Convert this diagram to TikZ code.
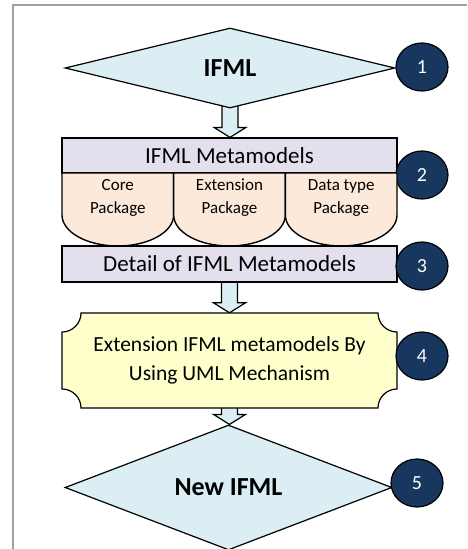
\documentclass[tikz,border=0pt]{standalone}
\usepackage{fontspec}
\setmainfont{Carlito}
\usetikzlibrary{shapes.geometric,backgrounds,calc}

\definecolor{aquafill}{HTML}{DAEEF3}
\definecolor{lavender}{HTML}{E4DFEC}
\definecolor{peach}{HTML}{FDE9D9}
\definecolor{lightyellow}{HTML}{FFFFCC}
\definecolor{navy}{HTML}{17375E}
\definecolor{framegray}{HTML}{A0A0A0}

% block arrow from the bottom of one node to the top of the next
\newcommand\blockarrow[2]{%
  \draw[blockarr] ($(#1.south)+(-8,-4)$) -- ($(#1.south |- #2.north)+(-8,-10)$) -- ++(-8,0)
    -- (#1.south |- #2.north) -- ++(16,-10) -- ++(-8,0) -- ($(#1.south)+(8,-4)$) -- cycle;}

\begin{document}
\begin{tikzpicture}[x=1pt,y=1pt,yscale=-1,
  decision/.style={diamond, draw, line width=1.2pt, fill=aquafill, inner sep=0pt,
    font=\fontsize{26}{30}\selectfont\bfseries},
  stepnum/.style={ellipse, draw=black, line width=1.2pt, fill=navy, text=white,
    minimum width=52pt, minimum height=48pt, inner sep=0pt, font=\fontsize{20}{24}\selectfont},
  bar/.style={rectangle, draw, line width=1.2pt, fill=lavender, minimum width=335pt,
    minimum height=35pt, inner sep=0pt, font=\fontsize{23}{27}\selectfont},
  pkg/.style={draw, line width=1.4pt, fill=peach},
  pkgtext/.style={align=center, inner sep=0pt, font=\fontsize{17}{23}\selectfont},
  plaque/.style={draw, line width=1.2pt, fill=lightyellow},
  blockarr/.style={draw, line width=1.2pt, fill=aquafill, line join=miter}]
\useasboundingbox (0,0) rectangle (467,549);

%Frame
\draw [framegray, line width=1.5pt] (13,549) -- (13,5) -- (467,5);

%Shape: Diamond
\node [decision, minimum width=330pt, minimum height=80pt] (ifml) at (230,68) {IFML};
\node [stepnum] (n1) at (422,67) {1};

%Shape: Rectangle
\node [bar] (meta) at (229.5,155.5) {IFML Metamodels};
\node [stepnum] (n2) at (422,175) {2};

%Shape: Packages
\foreach \pname/\ptext [count=\i] in {core/{Core\\Package}, ext/{Extension\\Package}, dtype/{Data type\\Package}}{
  \pgfmathsetmacro\xa{62+(\i-1)*111.67}
  \pgfmathsetmacro\xb{\xa+111.67}
  \draw [pkg] (\xa,173) -- (\xa,215) arc [start angle=180, end angle=0, x radius=55.83, y radius=31]
    -- (\xb,173) -- cycle;
  \node [pkgtext] (\pname) at (\xa+55.83,198) {\ptext};
}

%Shape: Rectangle
\node [bar, minimum height=36pt] (detail) at (229.5,264) {Detail of IFML Metamodels};
\node [stepnum] (n3) at (422,266) {3};

%Shape: Plaque
\draw [plaque] (81,313) -- (378,313) arc [start angle=180, end angle=90, radius=19]
  -- (397,389) arc [start angle=270, end angle=180, radius=19]
  -- (81,408) arc [start angle=0, end angle=-90, radius=19]
  -- (62,332) arc [start angle=90, end angle=0, radius=19] -- cycle;
% Text Node
\node [align=center, inner sep=0pt, minimum width=335pt, minimum height=95pt,
  font=\fontsize{21.5}{29}\selectfont] (extend) at (229.5,360.5)
  {Extension IFML metamodels By\\Using UML Mechanism};
\node [stepnum] (n4) at (422,356) {4};

%Shape: Diamond
\node [decision, minimum width=327pt, minimum height=95pt] (newifml) at (228.5,487.5) {New IFML};
\node [stepnum] (n5) at (417,483) {5};

%Arrows
\begin{scope}[on background layer]
  \blockarrow{ifml}{meta}
  \blockarrow{detail}{extend}
  \blockarrow{extend}{newifml}
\end{scope}
\end{tikzpicture}
\end{document}
